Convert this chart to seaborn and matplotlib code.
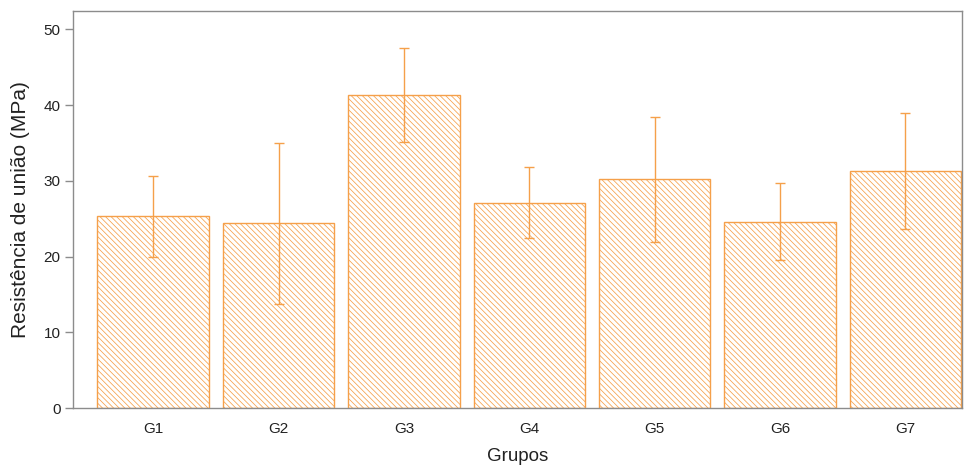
import matplotlib
matplotlib.use("Agg")
import matplotlib.pyplot as plt
import seaborn as sns
import pandas as pd
import numpy as np

groups = ["G1", "G2", "G3", "G4", "G5", "G6", "G7"]
means = [25.3, 24.4, 41.3, 27.1, 30.2, 24.6, 31.3]
sds = [5.3, 10.6, 6.2, 4.7, 8.3, 5.1, 7.7]

sns.set_theme(style="white")
plt.rcParams["font.family"] = ["Liberation Sans", "DejaVu Sans"]
plt.rcParams["hatch.color"] = "#F8B877"
plt.rcParams["hatch.linewidth"] = 0.55

df = pd.DataFrame({"Grupo": groups, "Media": means, "DP": sds})

fig = plt.figure(figsize=(9.74, 4.68), dpi=100)
ax = fig.add_axes([0.075, 0.128, 0.9125, 0.848])

orange = "#F5A04A"
sns.barplot(data=df, x="Grupo", y="Media", ax=ax, color="white",
            edgecolor=orange, linewidth=1.0, width=0.89, errorbar=None,
            hatch="\\\\\\\\\\\\")
ax.errorbar(np.arange(len(groups)), df["Media"], yerr=df["DP"], fmt="none",
            ecolor=orange, elinewidth=1.0, capsize=3.6, capthick=1.0)

ax.set_xlim(-0.64, 6.45)
ax.set_ylim(0, 52.4)
ax.set_yticks([0, 10, 20, 30, 40, 50])
for s in ax.spines.values():
    s.set_color("#8c8c8c")
    s.set_linewidth(1.0)
ax.tick_params(axis="y", left=True, length=6, width=1.0, color="#8c8c8c",
               labelsize=11, labelcolor="#222222", pad=3)
ax.tick_params(axis="x", bottom=False, labelsize=11, labelcolor="#222222", pad=4)
ax.set_ylabel("Resistência de união (MPa)", fontsize=15, color="#222222", labelpad=10)
ax.set_xlabel("Grupos", fontsize=13.5, color="#222222", labelpad=9)

fig.savefig("out.png", dpi=100)
